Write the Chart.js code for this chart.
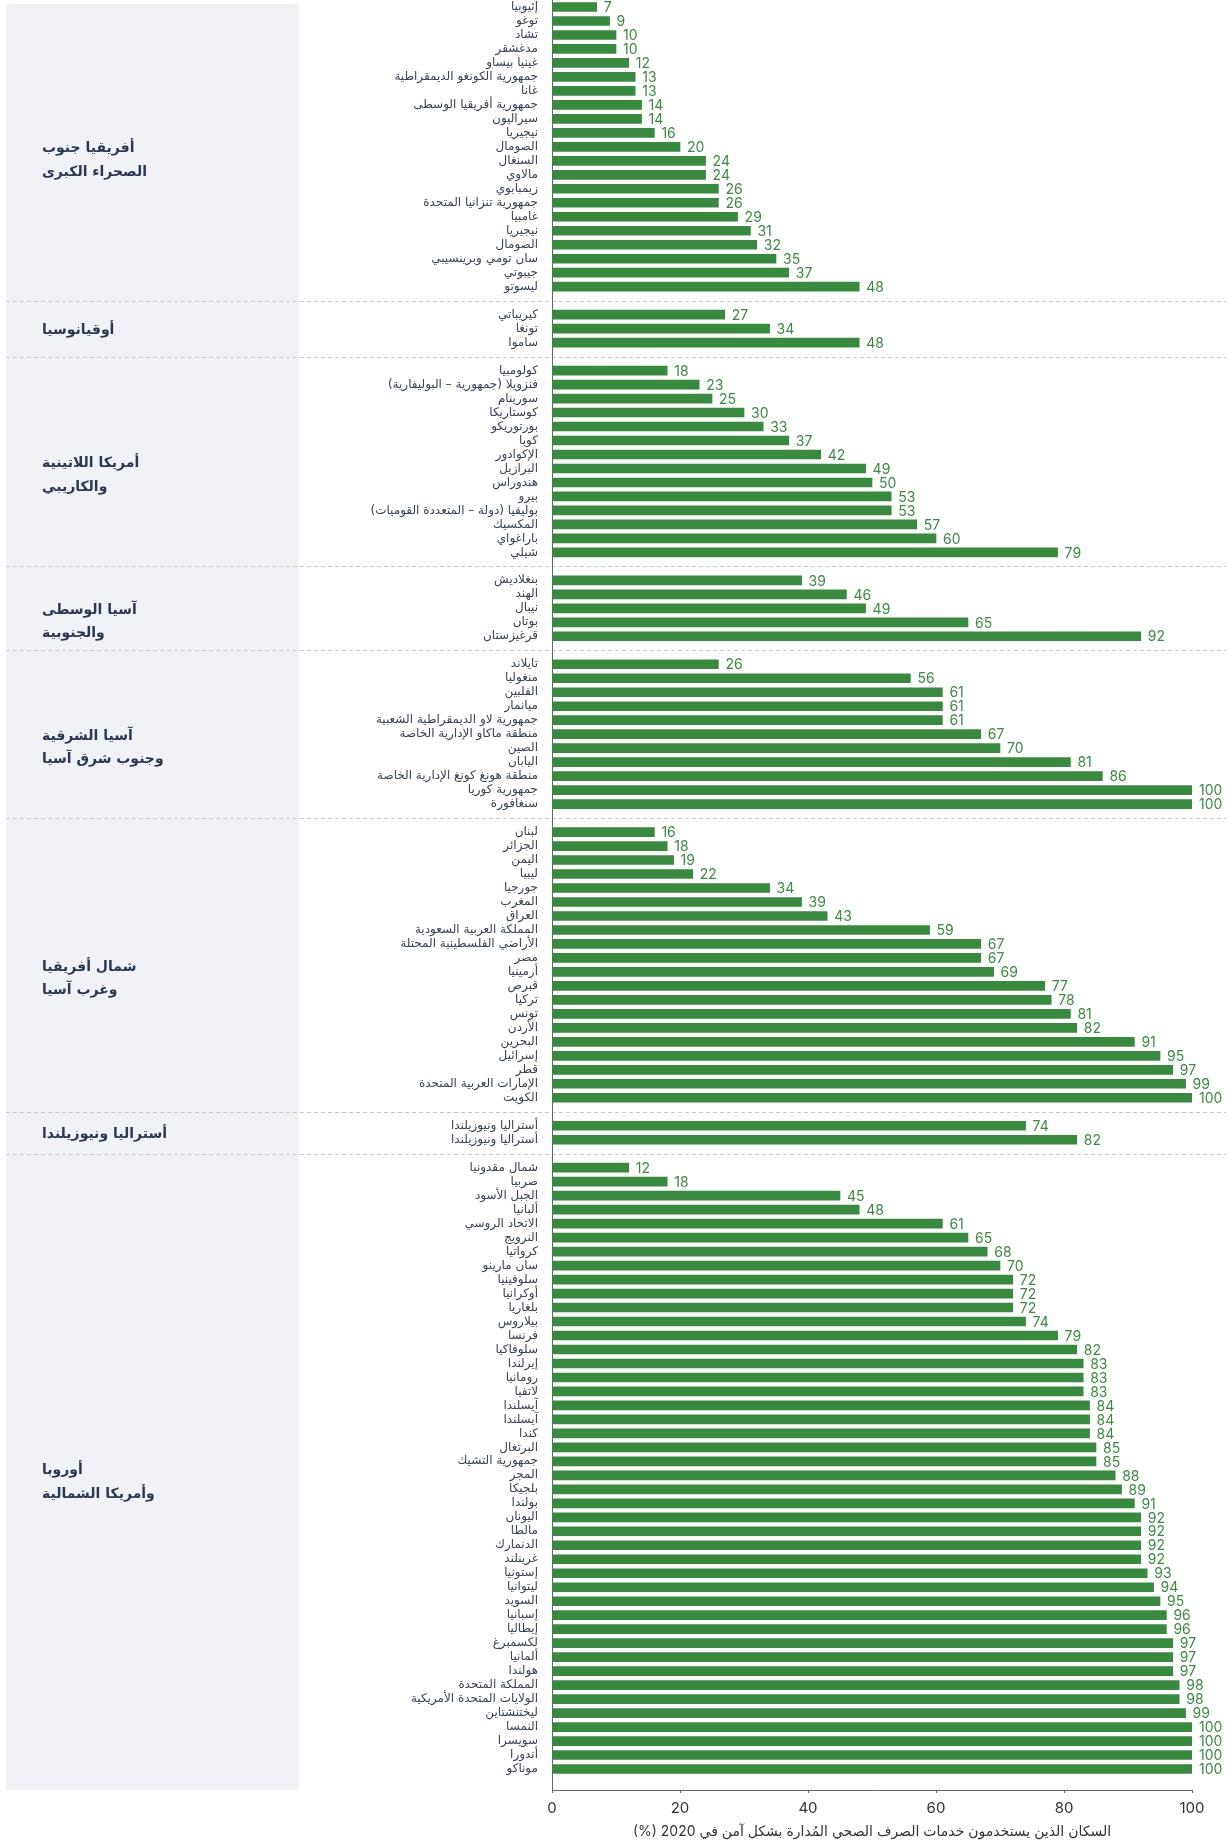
<!DOCTYPE html>
<html>
<head>
<meta charset="utf-8">
<script src="https://cdn.jsdelivr.net/npm/chart.js@4.4.1/dist/chart.umd.min.js"></script>
<style>
html,body{margin:0;padding:0;background:#fff;}
canvas{display:block;}
</style>
</head>
<body>
<canvas id="c" width="1231" height="1840" dir="rtl"></canvas>
<script>
// ---- DATA ----
const groupNames = [
  ['أفريقيا جنوب', 'الصحراء الكبرى'],
  ['أوقيانوسيا'],
  ['أمريكا اللاتينية', 'والكاريبي'],
  ['آسيا الوسطى', 'والجنوبية'],
  ['آسيا الشرقية', 'وجنوب شرق آسيا'],
  ['شمال أفريقيا', 'وغرب آسيا'],
  ['أستراليا ونيوزيلندا'],
  ['أوروبا', 'وأمريكا الشمالية']
];

const ssaCountries = ['إثيوبيا','توغو','تشاد','مدغشقر','غينيا بيساو','جمهورية الكونغو الديمقراطية','غانا','جمهورية أفريقيا الوسطى','سيراليون','نيجيريا','الصومال','السنغال','مالاوي','زيمبابوي','جمهورية تنزانيا المتحدة','غامبيا','نيجيريا','الصومال','سان تومي وبرينسيبي','جيبوتي','ليسوتو'];
const ssaValues = [7,9,10,10,12,13,13,14,14,16,20,24,24,26,26,29,31,32,35,37,48];

const oceCountries = ['كيريباتي','تونغا','ساموا'];
const oceValues = [27,34,48];

const latCountries = ['كولومبيا','فنزويلا (جمهورية – البوليفارية)','سورينام','كوستاريكا','بورتوريكو','كوبا','الإكوادور','البرازيل','هندوراس','بيرو','بوليفيا (دولة – المتعددة القوميات)','المكسيك','باراغواي','شيلي'];
const latValues = [18,23,25,30,33,37,42,49,50,53,53,57,60,79];

const csaCountries = ['بنغلاديش','الهند','نيبال','بوتان','قرغيزستان'];
const csaValues = [39,46,49,65,92];

const esaCountries = ['تايلاند','منغوليا','الفلبين','ميانمار','جمهورية لاو الديمقراطية الشعبية','منطقة ماكاو الإدارية الخاصة','الصين','اليابان','منطقة هونغ كونغ الإدارية الخاصة','جمهورية كوريا','سنغافورة'];
const esaValues = [26,56,61,61,61,67,70,81,86,100,100];

const nawCountries = ['لبنان','الجزائر','اليمن','ليبيا','جورجيا','المغرب','العراق','المملكة العربية السعودية','الأراضي الفلسطينية المحتلة','مصر','أرمينيا','قبرص','تركيا','تونس','الأردن','البحرين','إسرائيل','قطر','الإمارات العربية المتحدة','الكويت'];
const nawValues = [16,18,19,22,34,39,43,59,67,67,69,77,78,81,82,91,95,97,99,100];

const anzCountries = ['أستراليا ونيوزيلندا','أستراليا ونيوزيلندا'];
const anzValues = [74,82];

const euaCountries = ['شمال مقدونيا','صربيا','الجبل الأسود','ألبانيا','الاتحاد الروسي','النرويج','كرواتيا','سان مارينو','سلوفينيا','أوكرانيا','بلغاريا','بيلاروس','فرنسا','سلوفاكيا','إيرلندا','رومانيا','لاتفيا','آيسلندا','آيسلندا','كندا','البرتغال','جمهورية التشيك','المجر','بلجيكا','بولندا','اليونان','مالطا','الدنمارك','غرينلند','إستونيا','ليتوانيا','السويد','إسبانيا','إيطاليا','لكسمبرغ','ألمانيا','هولندا','المملكة المتحدة','الولايات المتحدة الأمريكية','ليختنشتاين','النمسا','سويسرا','أندورا','موناكو'];
const euaValues = [12,18,45,48,61,65,68,70,72,72,72,74,79,82,83,83,83,84,84,84,85,85,88,89,91,92,92,92,92,93,94,95,96,96,97,97,97,98,98,99,100,100,100,100];

const xTickStep = 20;
const xTitle = 'السكان الذين يستخدمون خدمات الصرف الصحي المُدارة بشكل آمن في 2020 (%)';

// ---- BUILD ----
const groupCountries = [ssaCountries, oceCountries, latCountries, csaCountries, esaCountries, nawCountries, anzCountries, euaCountries];
const groupValues = [ssaValues, oceValues, latValues, csaValues, esaValues, nawValues, anzValues, euaValues];

const labels = [], values = [], ranges = [], separators = [];
groupCountries.forEach((cs, g) => {
  if (g > 0) { labels.push(''); values.push(null); separators.push(labels.length - 1); }
  const start = labels.length;
  cs.forEach((c, i) => { labels.push(c); values.push(groupValues[g][i]); });
  ranges.push([start, labels.length - 1]);
});
labels.push(''); values.push(null);

const GREEN = '#388a3e';
const AXIS = '#5f6675';
const NUMFONT = 'Inter, "DejaVu Sans", sans-serif';

const panelPlugin = {
  id: 'panel',
  beforeDraw(chart) {
    const ctx = chart.ctx, y = chart.scales.y, area = chart.chartArea;
    ctx.save();
    ctx.fillStyle = '#f0f2f5';
    ctx.fillRect(6, 4, 293, area.bottom - 4);
    ctx.strokeStyle = '#c6cad1';
    ctx.lineWidth = 1;
    ctx.setLineDash([4, 3]);
    separators.forEach(idx => {
      const py = Math.round(y.getPixelForValue(idx)) + 0.5;
      ctx.beginPath(); ctx.moveTo(6, py); ctx.lineTo(1226, py); ctx.stroke();
    });
    ctx.setLineDash([]);
    ctx.fillStyle = '#2a3852';
    ctx.font = 'bold 14px "DejaVu Sans"';
    ctx.textAlign = 'left';
    ctx.textBaseline = 'middle';
    ctx.direction = 'rtl';
    ranges.forEach((r, g) => {
      const cy = (y.getPixelForValue(r[0]) + y.getPixelForValue(r[1])) / 2;
      groupNames[g].forEach((line, k) => {
        ctx.fillText(line, 42, cy + 2 + k * 23.5);
      });
    });
    ctx.restore();
  }
};

const valuePlugin = {
  id: 'vals',
  afterDatasetsDraw(chart) {
    const ctx = chart.ctx;
    const meta = chart.getDatasetMeta(0);
    ctx.save();
    ctx.fillStyle = '#3b8c40';
    ctx.font = '14px ' + NUMFONT;
    ctx.textAlign = 'left';
    ctx.textBaseline = 'middle';
    ctx.direction = 'ltr';
    meta.data.forEach((el, i) => {
      const v = values[i];
      if (v === null || v === undefined) return;
      ctx.fillText(String(v), el.x + 7, el.y + 1);
    });
    ctx.restore();
  }
};

new Chart(document.getElementById('c'), {
  type: 'bar',
  data: {
    labels: labels,
    datasets: [{
      data: values,
      backgroundColor: GREEN,
      borderWidth: 0,
      barThickness: 9
    }]
  },
  options: {
    indexAxis: 'y',
    responsive: false,
    animation: false,
    layout: { padding: { top: 0, right: 39, left: 0, bottom: 0 } },
    plugins: { legend: { display: false }, tooltip: { enabled: false } },
    scales: {
      x: {
        min: 0, max: 100,
        ticks: { stepSize: xTickStep, font: { family: NUMFONT, size: 15 }, color: '#333333', padding: 6 },
        grid: { drawOnChartArea: false, drawTicks: true, tickLength: 3, color: AXIS },
        border: { color: AXIS, width: 1 },
        title: { display: true, text: xTitle, font: { family: NUMFONT, size: 14 }, color: '#333', padding: { top: 1, bottom: 0 } },
        afterFit: s => { s.height = 50; }
      },
      y: {
        ticks: { autoSkip: false, font: { family: '"DejaVu Sans"', size: 12 }, color: '#36435a', padding: 14 },
        grid: { display: false, drawTicks: false },
        border: { color: AXIS, width: 1 },
        afterFit: s => { s.width = 552; s.paddingTop = 0; s.paddingBottom = 0; }
      }
    }
  },
  plugins: [panelPlugin, valuePlugin]
});
</script>
</body>
</html>
